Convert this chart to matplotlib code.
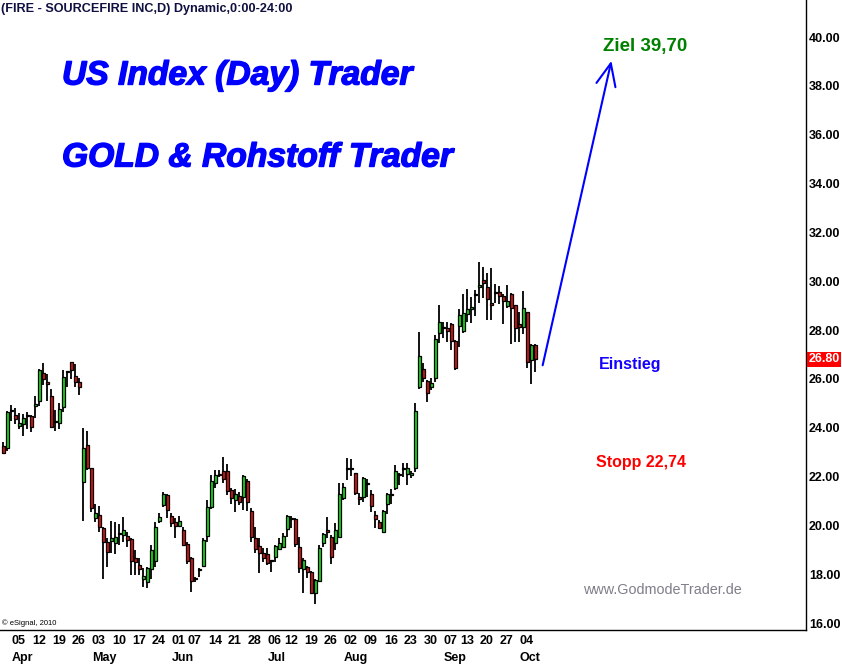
import numpy as np
import pandas as pd
import matplotlib
matplotlib.use("Agg")
import matplotlib.pyplot as plt
from matplotlib.patches import FancyArrowPatch
import matplotlib.patheffects as pe
import matplotlib.transforms as mtransforms

plt.rcParams['font.family'] = ['Liberation Sans', 'DejaVu Sans']

# daily candles, FIRE (Sourcefire), 26 Mar - 05 Oct 2010
holidays = ['2010-04-02', '2010-05-31', '2010-07-05', '2010-09-06']
dates = pd.bdate_range('2010-03-26', '2010-10-05')
dates = dates[~dates.isin(pd.to_datetime(holidays))]
first_label_date = '2010-04-05'

opens = [23.25, 23.18, 24.72, 24.51, 24.06, 24.14, 24.50, 24.47, 24.88, 25.08,
         26.23, 25.87, 25.29, 24.24, 24.18, 24.84, 26.29, 26.68, 26.12, 25.86,
         21.79, 23.29, 22.34, 20.32, 20.41, 19.88, 19.31, 19.37, 19.27, 19.67,
         19.62, 19.59, 19.46, 18.65, 18.38, 17.79, 17.67, 18.20, 18.56, 20.19,
         20.82, 21.23, 20.39, 20.14, 19.98, 19.80, 19.23, 18.65, 17.81, 18.16,
         18.34, 19.57, 20.74, 21.72, 22.10, 22.23, 22.23, 21.45, 21.04, 21.20,
         21.15, 21.82, 20.59, 19.50, 19.16, 18.86, 18.83, 18.56, 18.72, 19.05,
         19.13, 19.84, 20.28, 20.25, 19.10, 18.20, 18.28, 18.08, 17.24, 17.74,
         19.27, 19.81, 19.51, 19.27, 19.54, 21.11, 22.33, 22.30, 22.13, 21.15,
         21.15, 21.71, 21.27, 20.41, 20.15, 19.72, 20.86, 21.26, 21.52, 22.05,
         22.30, 22.10, 22.05, 22.34, 25.68, 26.40, 25.91, 25.66, 26.05, 27.87,
         28.09, 28.07, 28.24, 27.55, 28.18, 27.96, 28.67, 28.86, 29.42, 29.78,
         30.05, 29.75, 29.10, 29.52, 29.55, 29.39, 29.00, 29.50, 29.01, 28.25,
         28.11, 28.73, 26.76, 27.38]
highs = [23.43, 24.69, 24.93, 24.80, 24.60, 24.56, 24.66, 24.51, 25.29, 26.40,
         26.64, 26.19, 25.61, 24.73, 25.00, 26.36, 26.32, 26.70, 26.60, 26.02,
         23.98, 23.87, 22.36, 20.90, 20.79, 19.95, 19.50, 20.18, 20.15, 20.08,
         20.36, 19.74, 19.50, 18.99, 18.65, 18.24, 18.31, 19.20, 20.15, 20.50,
         21.38, 21.31, 20.50, 20.29, 20.39, 19.95, 19.33, 18.72, 17.90, 18.24,
         19.47, 21.04, 22.06, 22.27, 22.27, 22.81, 22.51, 21.52, 21.48, 21.38,
         22.05, 21.89, 20.70, 19.95, 19.47, 19.06, 19.06, 18.58, 19.20, 19.47,
         19.68, 20.43, 20.40, 20.29, 19.51, 18.65, 18.34, 18.12, 17.79, 19.20,
         19.70, 20.36, 19.61, 20.09, 21.72, 21.72, 22.75, 22.71, 22.16, 21.34,
         22.00, 21.89, 21.45, 20.59, 20.22, 20.63, 21.34, 21.48, 22.47, 22.16,
         22.54, 22.54, 22.24, 25.00, 27.91, 26.64, 25.95, 26.05, 27.80, 29.03,
         28.34, 28.34, 28.28, 27.59, 28.86, 29.50, 29.68, 29.37, 29.64, 30.80,
         30.60, 30.32, 30.53, 29.91, 29.80, 29.50, 29.84, 29.53, 29.03, 28.73,
         29.60, 28.73, 27.42, 27.42]
lows = [22.92, 23.06, 24.29, 24.14, 23.95, 23.67, 23.95, 23.84, 24.41, 24.90,
        25.75, 25.09, 24.00, 23.87, 23.95, 24.63, 25.68, 25.98, 25.68, 25.35,
        20.19, 22.27, 20.56, 20.15, 19.74, 17.80, 18.32, 18.88, 18.83, 19.19,
        19.33, 19.13, 17.97, 17.97, 17.97, 17.47, 17.42, 17.79, 18.31, 20.09,
        20.76, 20.29, 19.95, 19.50, 19.95, 19.17, 18.44, 17.29, 17.67, 17.90,
        18.28, 19.33, 20.66, 21.52, 21.97, 21.72, 21.24, 20.90, 20.54, 20.84,
        20.63, 20.59, 19.33, 18.86, 18.04, 18.52, 18.38, 18.10, 18.52, 18.99,
        19.10, 19.54, 19.88, 19.13, 18.07, 17.24, 17.83, 17.20, 16.78, 17.70,
        19.13, 19.47, 18.44, 18.99, 19.51, 21.04, 21.86, 22.02, 21.24, 20.84,
        20.97, 21.15, 20.56, 19.88, 19.85, 19.70, 20.47, 20.86, 21.45, 21.65,
        21.97, 21.65, 21.93, 22.20, 25.61, 25.89, 25.07, 25.54, 25.86, 27.46,
        27.66, 27.52, 27.18, 26.36, 27.32, 27.87, 28.34, 28.28, 28.59, 29.10,
        29.30, 28.41, 28.41, 29.12, 29.06, 28.24, 28.89, 27.42, 27.50, 27.52,
        27.83, 26.46, 25.78, 26.27]
closes = [22.96, 24.63, 24.68, 24.35, 24.18, 24.40, 24.52, 24.02, 24.96, 26.36,
          25.98, 25.78, 24.04, 24.22, 24.79, 26.10, 26.31, 26.38, 25.89, 25.68,
          23.16, 22.36, 20.70, 20.50, 19.92, 19.31, 18.92, 19.47, 19.54, 19.65,
          19.80, 19.41, 18.56, 18.52, 18.20, 17.95, 18.24, 18.99, 19.92, 20.36,
          21.28, 20.63, 20.11, 19.99, 20.17, 19.19, 18.56, 17.74, 17.79, 18.18,
          19.40, 20.74, 21.82, 22.06, 22.08, 21.92, 21.42, 21.11, 21.31, 20.97,
          22.02, 20.95, 19.54, 19.02, 18.86, 18.65, 18.47, 18.54, 19.14, 19.27,
          19.57, 20.39, 20.30, 19.23, 18.24, 18.58, 18.08, 17.24, 17.76, 19.06,
          19.64, 19.72, 18.72, 19.81, 21.31, 21.56, 22.35, 22.32, 21.34, 21.09,
          21.93, 21.73, 20.81, 20.27, 19.88, 20.60, 21.27, 21.28, 22.22, 22.07,
          22.32, 22.34, 22.13, 24.68, 26.94, 26.02, 25.41, 25.82, 27.63, 28.32,
          28.11, 27.97, 27.56, 26.43, 28.64, 28.69, 28.86, 28.96, 29.44, 29.85,
          29.94, 29.26, 29.03, 29.54, 29.41, 29.19, 29.19, 28.89, 28.07, 28.11,
          28.89, 26.68, 27.39, 26.80]

ytick_values = [16, 18, 20, 22, 24, 26, 28, 30, 32, 34, 36, 38, 40]
last_price = 26.80
target_price = 39.70
stop_price = 22.74
arrow_from = (134.7, 26.45)
arrow_to = (152.2, 39.14)

W, H = 842, 665
fig = plt.figure(figsize=(W / 100, H / 100), dpi=100)
ax = fig.add_axes([0, 35 / H, 806 / W, 630 / H])

x = np.arange(len(dates))
o = np.array(opens)
h = np.array(highs)
l = np.array(lows)
c = np.array(closes)
up = c >= o
body_lo = np.minimum(o, c)
body_h = np.maximum(np.abs(c - o), 0.04)

ax.vlines(x, l, h, color='black', lw=1.3, zorder=1)
ax.bar(x, body_h, bottom=body_lo, width=0.75,
       color=np.where(up, '#11dd11', '#dd1111'),
       edgecolor='black', linewidth=0.9, zorder=2)

ax.set_xlim(-0.83, 200.7)
ax.set_ylim(15.72, 41.52)

# axes frame like eSignal: only right and bottom line
for s in ['left', 'top']:
    ax.spines[s].set_visible(False)
ax.spines['right'].set_linewidth(1.0)
ax.spines['bottom'].set_linewidth(1.0)

ax.yaxis.tick_right()
ax.set_yticks(ytick_values)
ax.set_yticklabels(['%.2f' % v for v in ytick_values], fontsize=9, fontweight='bold')
ax.tick_params(axis='y', length=0, pad=2)
ax.set_xticks([])

# week labels (first trading day of week) and month labels
wk = pd.Series(dates).dt.isocalendar().week.values
first_of_week = [i for i in range(len(dates))
                 if i > 0 and wk[i] != wk[i - 1] and dates[i] >= pd.Timestamp(first_label_date)]
trans = mtransforms.blended_transform_factory(ax.transData, fig.transFigure)
prev_month = None
for i in first_of_week:
    d = dates[i]
    fig.text(i - 2.85, 1 - 641 / H, d.strftime('%d'), transform=trans, fontsize=9,
             fontweight='bold', ha='left', va='center')
    if d.month != prev_month:
        fig.text(i - 2.85, 1 - 658 / H, d.strftime('%b'), transform=trans, fontsize=9,
                 fontweight='bold', ha='left', va='center')
        prev_month = d.month

# last price marker
ax.text(1.003, last_price, '%.2f' % last_price, transform=ax.get_yaxis_transform(),
        ha='left', va='center', fontsize=9, fontweight='bold', color='white',
        bbox=dict(boxstyle='square,pad=0.12', fc='#ff0000', ec='none'), clip_on=False)

# header and annotations
fig.text(1 / W, 1 - 9 / H, '(FIRE - SOURCEFIRE INC,D) Dynamic,0:00-24:00',
         fontsize=9.1, fontweight='bold', color='#101040', ha='left', va='center')
heavy = [pe.Stroke(linewidth=1.0, foreground='#0000ff'), pe.Normal()]
fig.text(62 / W, 1 - 76 / H, 'US Index (Day) Trader', fontsize=24.2,
         fontweight='bold', style='italic', color='#0000ff', ha='left', va='center',
         path_effects=heavy)
fig.text(62 / W, 1 - 158 / H, 'GOLD & Rohstoff Trader', fontsize=24.2,
         fontweight='bold', style='italic', color='#0000ff', ha='left', va='center',
         path_effects=heavy)
fig.text(603 / W, 1 - 46 / H, 'Ziel %s' % ('%.2f' % target_price).replace('.', ','),
         fontsize=13.5, fontweight='bold', color='#008000', ha='left', va='center')
fig.text(599 / W, 1 - 365 / H, 'Einstieg', fontsize=11.5, fontweight='bold',
         color='#1400ff', ha='left', va='center')
fig.text(596 / W, 1 - 463 / H, 'Stopp %s' % ('%.2f' % stop_price).replace('.', ','),
         fontsize=11.5, fontweight='bold', color='#ff0000', ha='left', va='center')
fig.text(583 / W, 1 - 590 / H, 'www.GodmodeTrader.de', fontsize=10.4,
         color='#7f7f8a', ha='left', va='center')
fig.text(2 / W, 1 - 623 / H, '\u00a9 eSignal, 2010', fontsize=5.5,
         color='black', ha='left', va='center')

arr = FancyArrowPatch(arrow_from, arrow_to, arrowstyle='->,head_length=1.6,head_width=0.7',
                      mutation_scale=10, color='#0000ff', lw=1.5, zorder=3)
ax.add_patch(arr)

fig.savefig('out.png', dpi=100)
